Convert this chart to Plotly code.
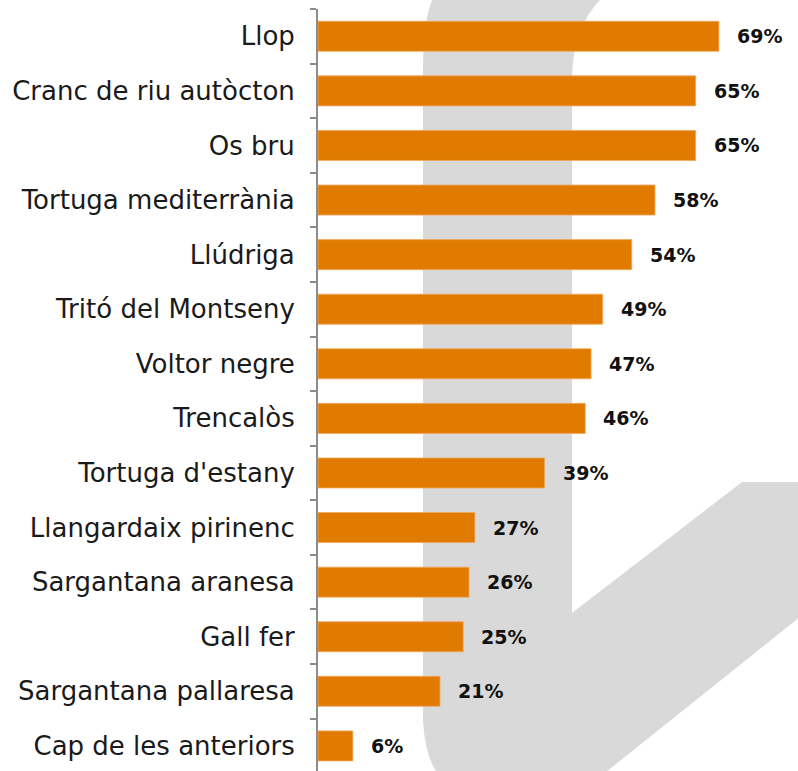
import plotly.graph_objects as go

categories = ["Llop", "Cranc de riu autòcton", "Os bru", "Tortuga mediterrània",
              "Llúdriga", "Tritó del Montseny", "Voltor negre", "Trencalòs",
              "Tortuga d'estany", "Llangardaix pirinenc", "Sargantana aranesa",
              "Gall fer", "Sargantana pallaresa", "Cap de les anteriors"]
values = [69, 65, 65, 58, 54, 49, 47, 46, 39, 27, 26, 25, 21, 6]
value_labels = [f"{v}%" for v in values]

W, H = 798, 771
ML, MR, MT, MB = 318, 0, 9, 0
PW, PH = W - ML - MR, H - MT - MB
PX_PER_PCT = 5.81

def px(x, y):
    # x, y in window pixels -> paper coordinates
    return f"{(x - ML) / PW:.5f},{1 - (y - MT) / PH:.5f}"

path = (
    f"M {px(433, -2)} Q {px(423, 20)} {px(423, 70)} L {px(423, 720)} "
    f"Q {px(425, 760)} {px(440, 776)} L {px(601, 776)} L {px(830, 593)} "
    f"L {px(830, 482)} L {px(742, 482)} L {px(572, 613)} L {px(572, 75)} "
    f"Q {px(574, 25)} {px(602, -2)} Z"
)

fig = go.Figure()
fig.add_trace(go.Bar(
    x=values, y=categories, orientation="h",
    marker=dict(color="#E07B00", line=dict(color="#F0A860", width=0.8)),
    hoverinfo="skip",
))

for c, v, t in zip(categories, values, value_labels):
    fig.add_annotation(x=v, y=c, text=f"<b>{t}</b>", showarrow=False,
                       xanchor="left", yanchor="middle", xshift=16,
                       font=dict(family="DejaVu Sans", size=19, color="#111111"))

fig.add_shape(type="path", path=path, xref="paper", yref="paper",
              fillcolor="#D9D9D9", line=dict(width=0), layer="below")

fig.update_layout(
    width=W, height=H,
    margin=dict(l=ML, r=MR, t=MT, b=MB),
    paper_bgcolor="white", plot_bgcolor="rgba(0,0,0,0)",
    bargap=0.45, showlegend=False,
    xaxis=dict(visible=False, range=[0, PW / PX_PER_PCT], fixedrange=True),
    yaxis=dict(
        type="category", categoryorder="array", categoryarray=categories,
        range=[13.46, -0.5],
        showline=True, linecolor="#8C8C8C", linewidth=2,
        ticks="outside", tickson="boundaries", ticklen=6, tickcolor="#8C8C8C", tickwidth=2,
        ticklabelstandoff=16,
        tickfont=dict(family="DejaVu Sans", size=26, color="#1a1a1a"),
        showgrid=False, zeroline=False,
    ),
)

fig.write_html(
    "out.html",
    config={"displayModeBar": False},
    post_script="document.body.style.margin='0';document.body.style.overflow='hidden';",
)
